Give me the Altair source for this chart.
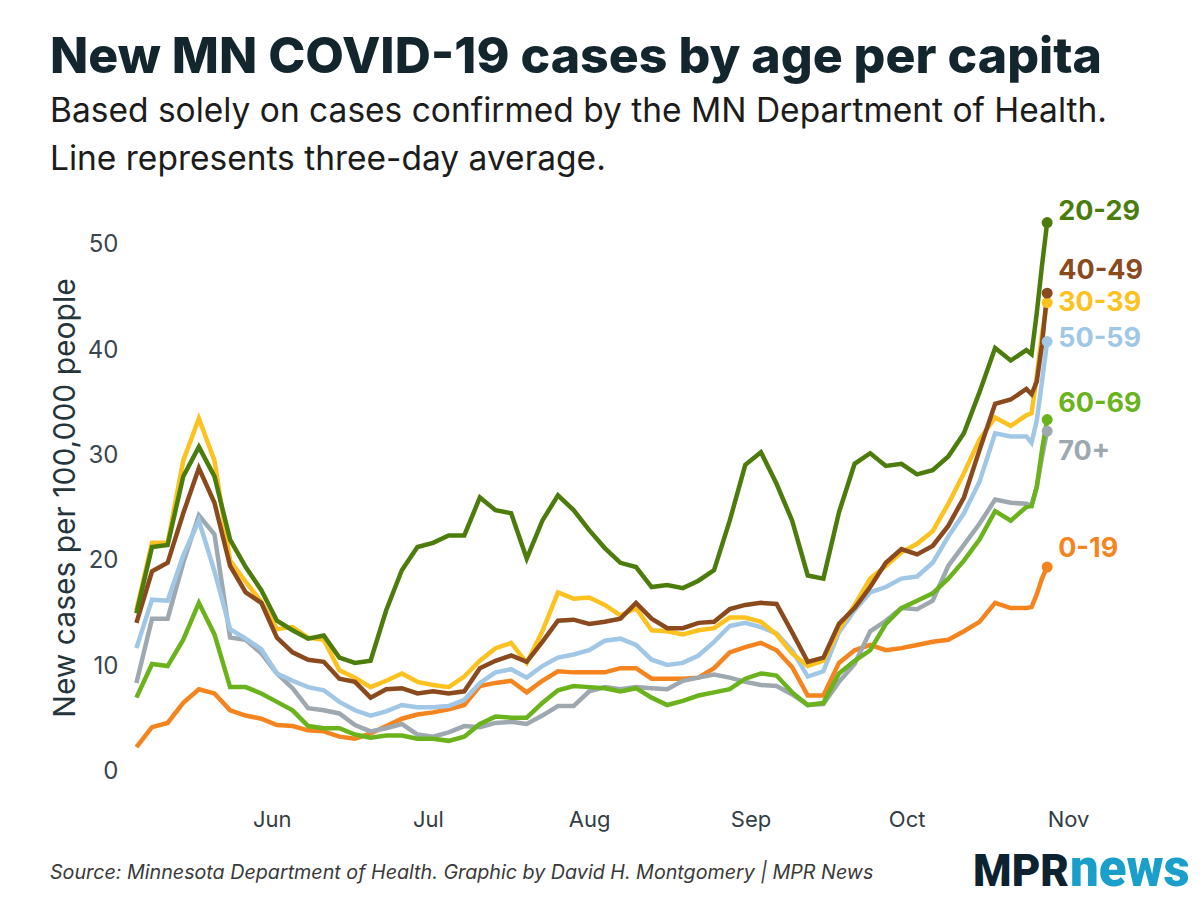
import altair as alt
import pandas as pd

# ---------------- data ----------------
grid_dates = list(pd.date_range("2020-05-06", "2020-10-24", freq="3D").strftime("%Y-%m-%d"))
final_dates = ["2020-10-25", "2020-10-26", "2020-10-27", "2020-10-28"]
dates = grid_dates + final_dates

groups = ["0-19", "70+", "60-69", "50-59", "30-39", "40-49", "20-29"]
colors = ["#f5841f", "#9ea8b0", "#6bb31d", "#a1c7e6", "#fdc21f", "#8a4a1d", "#4c7c0c"]

age_0_19 = [2.3, 4.2, 4.6, 6.5, 7.8, 7.4, 5.8, 5.3, 5.0, 4.4,
            4.3, 3.9, 3.8, 3.3, 3.1, 3.6, 4.3, 5.0, 5.4, 5.6,
            5.9, 6.3, 8.1, 8.4, 8.6, 7.5, 8.6, 9.5, 9.4, 9.4,
            9.4, 9.8, 9.8, 8.8, 8.8, 8.8, 8.9, 9.8, 11.3, 11.8,
            12.2, 11.5, 9.9, 7.2, 7.2, 10.3, 11.5, 12.0, 11.5, 11.7,
            12.0, 12.3, 12.5, 13.3, 14.2, 16.0, 15.5, 15.5,
            15.6, 16.8, 18.3, 19.4]
age_20_29 = [15.0, 21.3, 21.5, 28.0, 30.8, 28.0, 22.0, 19.4, 17.2, 14.3,
             13.4, 12.6, 12.9, 10.8, 10.3, 10.5, 15.3, 19.1, 21.3, 21.7,
             22.4, 22.4, 26.0, 24.8, 24.5, 20.2, 23.8, 26.2, 24.8, 22.9,
             21.2, 19.8, 19.4, 17.5, 17.7, 17.4, 18.1, 19.1, 23.8, 29.1,
             30.3, 27.3, 23.8, 18.6, 18.3, 24.6, 29.2, 30.2, 29.0, 29.2,
             28.2, 28.6, 29.9, 32.1, 36.0, 40.2, 39.0, 40.0,
             39.6, 43.5, 48.0, 52.1]
age_30_39 = [15.3, 21.7, 21.7, 29.5, 33.5, 29.5, 20.0, 18.0, 16.1, 13.5,
             13.7, 12.7, 12.5, 9.6, 8.9, 8.0, 8.6, 9.3, 8.5, 8.2,
             8.0, 9.0, 10.5, 11.7, 12.2, 10.3, 13.3, 17.0, 16.4, 16.5,
             15.8, 14.8, 15.5, 13.4, 13.3, 13.0, 13.4, 13.6, 14.6, 14.6,
             14.2, 13.0, 11.2, 10.0, 10.5, 13.5, 15.8, 18.3, 19.5, 20.8,
             21.6, 22.8, 25.4, 28.3, 31.5, 33.6, 32.8, 33.8,
             34.0, 37.5, 41.5, 44.5]
age_40_49 = [14.1, 19.0, 19.8, 24.5, 28.8, 25.5, 19.5, 17.0, 16.0, 12.7,
             11.3, 10.6, 10.4, 8.8, 8.5, 7.0, 7.8, 7.9, 7.4, 7.6,
             7.4, 7.6, 9.8, 10.5, 11.0, 10.4, 12.3, 14.3, 14.4, 14.0,
             14.2, 14.5, 16.0, 14.5, 13.6, 13.6, 14.1, 14.2, 15.4, 15.8,
             16.0, 15.9, 13.2, 10.4, 10.8, 14.0, 15.5, 17.5, 19.8, 21.1,
             20.6, 21.4, 23.3, 26.0, 30.5, 34.9, 35.3, 36.3,
             35.8, 37.0, 40.5, 45.4]
age_50_59 = [11.7, 16.3, 16.2, 20.5, 23.8, 19.0, 13.5, 12.6, 11.6, 9.3,
             8.6, 8.0, 7.7, 6.6, 5.8, 5.3, 5.7, 6.3, 6.1, 6.1,
             6.2, 6.8, 8.4, 9.4, 9.7, 8.9, 10.0, 10.8, 11.1, 11.5,
             12.4, 12.6, 12.0, 10.6, 10.1, 10.3, 11.0, 12.3, 13.8, 14.1,
             13.7, 13.1, 11.5, 9.0, 9.5, 13.2, 15.3, 17.0, 17.5, 18.3,
             18.5, 19.8, 22.3, 24.5, 27.5, 32.1, 31.8, 31.8,
             31.2, 33.3, 37.0, 40.8]
age_60_69 = [7.0, 10.2, 10.0, 12.5, 16.0, 13.0, 8.0, 8.0, 7.4, 6.6,
             5.8, 4.3, 4.1, 4.1, 3.5, 3.2, 3.4, 3.4, 3.1, 3.1,
             2.9, 3.3, 4.5, 5.2, 5.1, 5.1, 6.5, 7.7, 8.1, 8.0,
             7.9, 7.6, 7.9, 7.0, 6.3, 6.7, 7.2, 7.5, 7.8, 8.8,
             9.3, 9.1, 7.5, 6.3, 6.5, 9.3, 10.5, 11.5, 14.0, 15.5,
             16.2, 16.9, 18.3, 20.0, 22.0, 24.7, 23.8, 25.1,
             25.2, 27.0, 30.5, 33.4]
age_70_plus = [8.4, 14.5, 14.5, 19.8, 24.3, 22.5, 12.7, 12.5, 11.2, 9.3,
               7.9, 6.0, 5.8, 5.5, 4.4, 3.8, 4.1, 4.5, 3.5, 3.3,
               3.7, 4.3, 4.2, 4.6, 4.7, 4.5, 5.3, 6.2, 6.2, 7.6,
               8.0, 7.8, 8.0, 7.9, 7.8, 8.6, 8.9, 9.2, 8.9, 8.5,
               8.2, 8.1, 7.3, 6.3, 6.4, 8.5, 10.2, 13.3, 14.3, 15.5,
               15.4, 16.2, 19.5, 21.5, 23.5, 25.8, 25.5, 25.4,
               25.2, 27.0, 29.8, 32.3]

series = {
    "0-19": age_0_19, "20-29": age_20_29, "30-39": age_30_39,
    "40-49": age_40_49, "50-59": age_50_59, "60-69": age_60_69, "70+": age_70_plus,
}

# y position (in data units) of each end label
label_groups = ["20-29", "40-49", "30-39", "50-59", "60-69", "70+", "0-19"]
label_values = [53.1, 47.5, 44.5, 41.0, 34.9, 30.3, 21.1]

title_text = "New MN COVID-19 cases by age per capita"
subtitle_lines = ["Based solely on cases confirmed by the MN Department of Health.",
                  "Line represents three-day average."]
y_title = "New cases per 100,000 people"
source_text = "Source: Minnesota Department of Health. Graphic by David H. Montgomery | MPR News"

# ---------------- tables ----------------
rows = []
for g in groups:
    vals = series[g]
    assert len(vals) == len(dates)
    for d, v in zip(dates, vals):
        rows.append({"date": d, "value": v, "group": g})
df = pd.DataFrame(rows)

ends_df = pd.DataFrame([{"date": dates[-1], "value": series[g][-1], "group": g} for g in groups])
labels_df = pd.DataFrame([{"date": dates[-1], "value": v, "group": g}
                          for g, v in zip(label_groups, label_values)])

FONT = "Inter"
month_ticks = [alt.DateTime(year=2020, month=m, date=1, utc=True) for m in range(6, 12)]

X = alt.X("date:T",
          scale=alt.Scale(type="utc",
                          domain=[alt.DateTime(year=2020, month=5, date=4, utc=True),
                                  alt.DateTime(year=2020, month=11, date=6, utc=True)]),
          axis=alt.Axis(values=month_ticks, labelExpr="utcFormat(datum.value, '%b')",
                        title=None, grid=False, domain=False, ticks=False, labelFont=FONT,
                        labelFontSize=22, labelColor="#333d44", labelPadding=6))
Y = alt.Y("value:Q",
          scale=alt.Scale(domain=[-3, 55], nice=False, zero=False),
          axis=alt.Axis(values=[0, 10, 20, 30, 40, 50], title=y_title, grid=False,
                        domain=False, ticks=False, labelFont=FONT, labelFontSize=24,
                        labelColor="#3a464e", labelPadding=8, titleFont=FONT,
                        titleFontSize=30, titleFontWeight="normal", titleColor="#26343c",
                        titlePadding=7))
C = alt.Color("group:N", scale=alt.Scale(domain=groups, range=colors), legend=None)

lines = alt.Chart(df).mark_line(strokeWidth=4.5).encode(x=X, y=Y, color=C)
ends = alt.Chart(ends_df).mark_circle(size=120, opacity=1).encode(x=X, y=Y, color=C)
labels = alt.Chart(labels_df).mark_text(
    align="left", baseline="middle", dx=11, font=FONT, fontSize=27, fontWeight="bold"
).encode(x=X, y=Y, color=C, text="group:N")

footer = alt.Chart(pd.DataFrame({"t": [source_text]})).mark_text(
    align="left", baseline="alphabetic", font=FONT, fontSize=19.7, fontStyle="italic",
    color="#3a3a3a"
).encode(x=alt.value(-76), y=alt.value(687), text="t:N")

logo_mpr = alt.Chart(pd.DataFrame({"t": ["MPR"]})).mark_text(
    align="right", baseline="alphabetic", font="Roboto", fontSize=44,
    fontWeight=900, color="#0d2231"
).encode(x=alt.value(943), y=alt.value(694), text="t:N")
logo_news = alt.Chart(pd.DataFrame({"t": ["news"]})).mark_text(
    align="left", baseline="alphabetic", font="Roboto", fontSize=51,
    fontWeight=900, color="#1a9fcb"
).encode(x=alt.value(944), y=alt.value(694), text="t:N")

chart = alt.layer(lines, ends, labels, footer, logo_mpr, logo_news).properties(
    width=968, height=611,
    background="white",
    padding={"left": 126, "top": 192, "right": 106, "bottom": 97},
    autosize=alt.AutoSizeParams(type="none"),
    title=alt.TitleParams(
        text=title_text, subtitle=subtitle_lines, anchor="start", frame="group",
        dx=-76, offset=16, font=FONT, fontSize=50, fontWeight=800, color="#13252d",
        subtitleFont=FONT, subtitleFontSize=33.5, subtitleColor="#1c1c1c",
        subtitlePadding=13, subtitleLineHeight=48),
).configure_view(stroke=None, strokeWidth=0)

chart.save("out.html", embed_options={"renderer": "svg", "actions": False})
